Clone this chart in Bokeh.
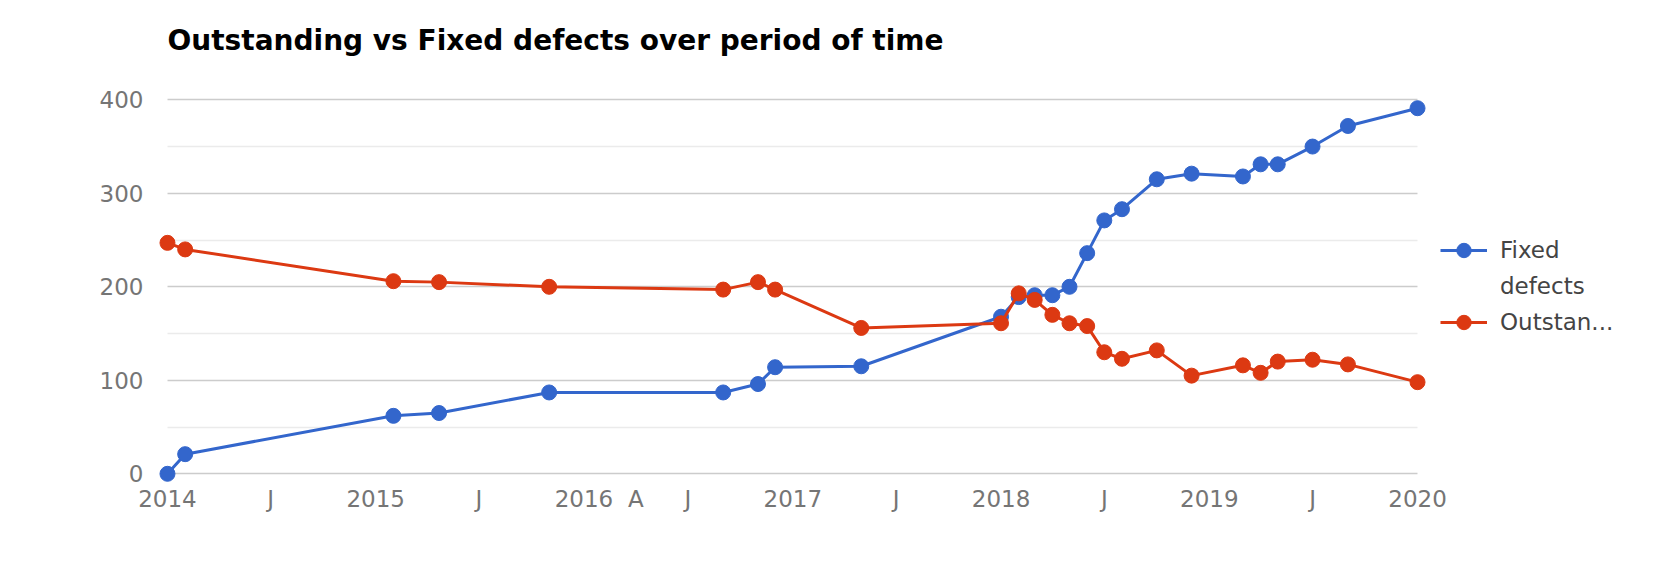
import pandas as pd
from bokeh.plotting import figure
from bokeh.models import ColumnDataSource, FixedTicker, Legend, LegendItem, Range1d
from bokeh.embed import file_html
from bokeh.resources import INLINE

# ---- data ----
dates = ["2014-01-01", "2014-02-01", "2015-02-01", "2015-04-22", "2015-11-01",
         "2016-09-01", "2016-11-01", "2016-12-01", "2017-05-01", "2018-01-01",
         "2018-02-01", "2018-03-01", "2018-04-01", "2018-05-01", "2018-06-01",
         "2018-07-01", "2018-08-01", "2018-10-01", "2018-12-01", "2019-03-01",
         "2019-04-01", "2019-05-01", "2019-07-01", "2019-09-01", "2020-01-01"]
fixed = [0, 21, 62, 65, 87, 87, 96, 114, 115, 168, 189, 191, 191, 200, 236,
         271, 283, 315, 321, 318, 331, 331, 350, 372, 391]
outstanding = [247, 240, 206, 205, 200, 197, 205, 197, 156, 161, 193, 186, 170, 161, 158,
               130, 123, 132, 105, 116, 108, 120, 122, 117, 98]
tick_dates = ["2014-01-01", "2014-07-01", "2015-01-01", "2015-07-01", "2016-01-01",
              "2016-04-01", "2016-07-01", "2017-01-01", "2017-07-01", "2018-01-01",
              "2018-07-01", "2019-01-01", "2019-07-01", "2020-01-01"]
tick_labels = ["2014", "J", "2015", "J", "2016", "A", "J", "2017", "J", "2018",
               "J", "2019", "J", "2020"]
y_ticks = [0, 100, 200, 300, 400]
y_minor = [50, 150, 250, 350]
title = "Outstanding vs Fixed defects over period of time"
fixed_label_lines = ["Fixed", "defects"]   # legend label wrapped on two lines
outstanding_label = "Outstan..."           # legend label as truncated in the chart

BLUE = "#3366cc"
RED = "#dc3912"
FONT = "DejaVu Sans"

x = pd.to_datetime(dates)
src = ColumnDataSource(dict(x=x, fixed=fixed, outstanding=outstanding))
tick_ms = [int(pd.Timestamp(d).timestamp() * 1000) for d in tick_dates]

# ---- layout (pixels) ----
W, H = 1664, 573
LEFT = 155            # frame left edge
TOP = 77              # frame top edge
BOTTOM = 485          # frame bottom edge
DATA_W = 1274         # width covering the date span plus marker padding
FRAME_W = W - LEFT    # frame extended to the right to host the legend
PX_PER_UNIT = 0.935
Y_TOP_PX, Y_ZERO_PX = 99.3, 473.3   # pixel rows of 400 and 0

day_ms = 86400000
pad_x = 21 * day_ms
x0, x1 = tick_ms[0], tick_ms[-1]
start = x0 - pad_x
ms_per_px = (x1 + pad_x - start) / DATA_W
end = start + FRAME_W * ms_per_px

y_lo = -(BOTTOM - Y_ZERO_PX) / PX_PER_UNIT
y_hi = y_ticks[-1] + (Y_TOP_PX - TOP) / PX_PER_UNIT

p = figure(width=W, height=H, x_axis_type="datetime",
           output_backend="svg", toolbar_location=None,
           x_range=Range1d(start, end),
           y_range=Range1d(y_lo, y_hi),
           min_border_left=LEFT, min_border_right=0,
           min_border_top=TOP, min_border_bottom=H - BOTTOM)
p.outline_line_color = None
p.background_fill_color = "white"
p.border_fill_color = "white"

# title
p.title.text = title
p.title.text_font = FONT
p.title.text_font_style = "bold"
p.title.text_font_size = "28px"
p.title.text_color = "#000000"
p.title.align = "left"
p.title.offset = 12
p.title.standoff = 42

# axes
for ax in (p.xaxis[0], p.yaxis[0]):
    ax.axis_line_color = None
    ax.major_tick_line_color = None
    ax.minor_tick_line_color = None
    ax.major_tick_in = 0
    ax.major_tick_out = 0
    ax.minor_tick_in = 0
    ax.minor_tick_out = 0
    ax.major_label_text_font = FONT
    ax.major_label_text_font_size = "23px"
    ax.major_label_text_color = "#757575"

p.xaxis.ticker = FixedTicker(ticks=tick_ms)
p.xaxis.major_label_overrides = {t: l for t, l in zip(tick_ms, tick_labels)}
p.xaxis.major_label_standoff = 0

p.yaxis.ticker = FixedTicker(ticks=y_ticks, minor_ticks=y_minor)
p.yaxis.major_label_standoff = 12

p.xgrid.grid_line_color = None
p.ygrid.grid_line_color = "#cccccc"
p.ygrid.grid_line_width = 1.5
p.ygrid.minor_grid_line_color = "#ebebeb"
p.ygrid.minor_grid_line_width = 1.5
try:
    p.ygrid.cross_bounds = (x0, x1)
except AttributeError:
    pass

# series
l1 = p.line("x", "fixed", source=src, line_color=BLUE, line_width=3)
s1 = p.scatter("x", "fixed", source=src, size=15, fill_color=BLUE, line_color=BLUE)
l2 = p.line("x", "outstanding", source=src, line_color=RED, line_width=3)
s2 = p.scatter("x", "outstanding", source=src, size=15, fill_color=RED, line_color=RED)

legend = Legend(items=[LegendItem(label=fixed_label_lines[0], renderers=[l1, s1]),
                       LegendItem(label=fixed_label_lines[1], renderers=[]),
                       LegendItem(label=outstanding_label, renderers=[l2, s2])],
                location=(DATA_W + 11, 145), orientation="vertical")
legend.margin = 0
legend.padding = 12
legend.border_line_color = None
legend.background_fill_alpha = 0
legend.glyph_width = 47
legend.glyph_height = 36
legend.label_standoff = 13
legend.spacing = 0
legend.label_text_font = FONT
legend.label_text_font_size = "23px"
legend.label_text_color = "#444444"
p.add_layout(legend)

open("out.html", "w").write(file_html(p, INLINE))
